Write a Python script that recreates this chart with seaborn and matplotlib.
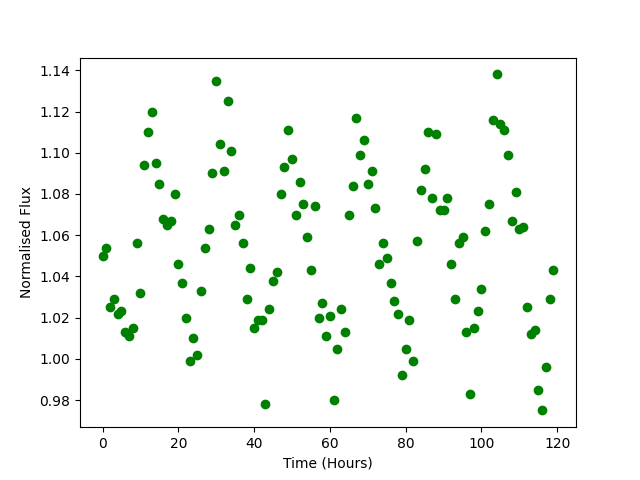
import numpy as np
import matplotlib
matplotlib.use("Agg")
import matplotlib.pyplot as plt
import seaborn as sns

hours = list(range(120))
flux = [
    1.050, 1.054, 1.025, 1.029, 1.022, 1.023, 1.013, 1.011, 1.015, 1.056,
    1.032, 1.094, 1.110, 1.120, 1.095, 1.085, 1.068, 1.065, 1.067, 1.080,
    1.046, 1.037, 1.020, 0.999, 1.010, 1.002, 1.033, 1.054, 1.063, 1.090,
    1.135, 1.104, 1.091, 1.125, 1.101, 1.065, 1.070, 1.056, 1.029, 1.044,
    1.015, 1.019, 1.019, 0.978, 1.024, 1.038, 1.042, 1.080, 1.093, 1.111,
    1.097, 1.070, 1.086, 1.075, 1.059, 1.043, 1.074, 1.020, 1.027, 1.011,
    1.021, 0.980, 1.005, 1.024, 1.013, 1.070, 1.084, 1.117, 1.099, 1.106,
    1.085, 1.091, 1.073, 1.046, 1.056, 1.049, 1.037, 1.028, 1.022, 0.992,
    1.005, 1.019, 0.999, 1.057, 1.082, 1.092, 1.110, 1.078, 1.109, 1.072,
    1.072, 1.078, 1.046, 1.029, 1.056, 1.059, 1.013, 0.983, 1.015, 1.023,
    1.034, 1.062, 1.075, 1.116, 1.138, 1.114, 1.111, 1.099, 1.067, 1.081,
    1.063, 1.064, 1.025, 1.012, 1.014, 0.985, 0.975, 0.996, 1.029, 1.043,
]

fig, ax = plt.subplots(figsize=(6.4, 4.8), dpi=100)
sns.scatterplot(x=hours, y=flux, color="green", edgecolor="green",
                s=36, linewidth=1, ax=ax)
ax.set_xlabel("Time (Hours)")
ax.set_ylabel("Normalised Flux")
fig.savefig("out.png", dpi=100)
